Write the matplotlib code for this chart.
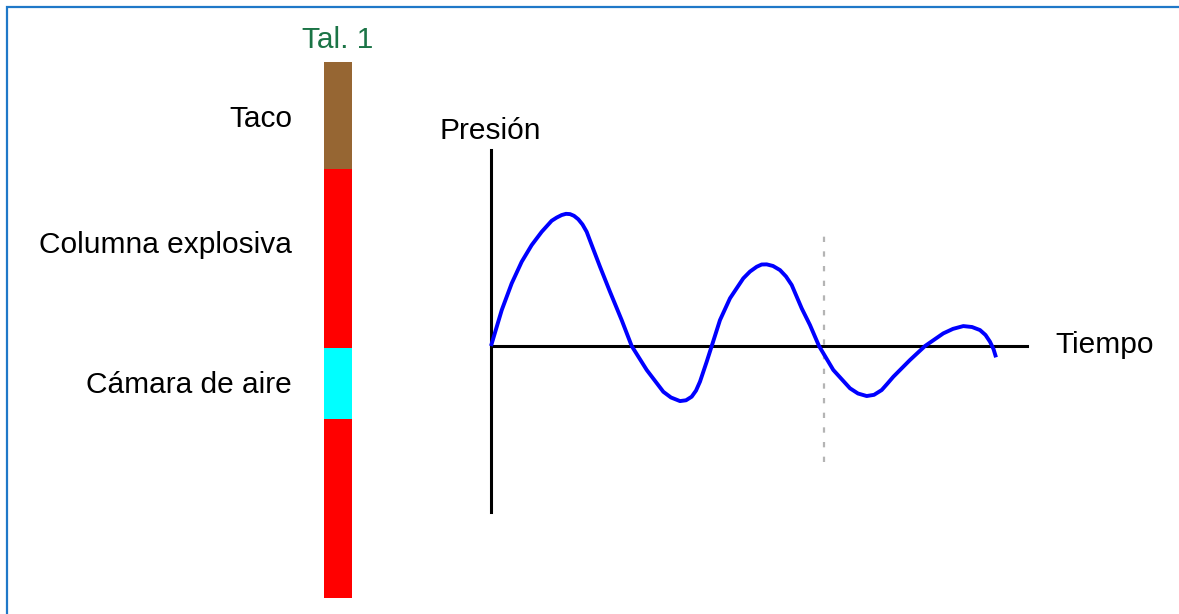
import matplotlib
matplotlib.use("Agg")
import matplotlib.pyplot as plt
from matplotlib.patches import Rectangle

plt.rcParams["font.family"] = ["Liberation Sans", "DejaVu Sans"]

# column segments, top to bottom (relative lengths)
segment_names = ["Taco", "Columna explosiva", "Cámara de aire", "Columna explosiva"]
segment_lengths = [1.5, 2.5, 1.0, 2.5]
segment_colors = ["#966633", "#ff0000", "#00ffff", "#ff0000"]
column_title = "Tal. 1"

# pressure trace (time, pressure)
time_vals = [0.0, 0.20, 0.386, 0.573, 0.759, 0.946, 1.132, 1.226, 1.319, 1.399,
             1.474, 1.549, 1.629, 1.707, 1.785, 1.879, 2.034, 2.220, 2.438, 2.625,
             2.905, 3.215, 3.358, 3.526, 3.638, 3.744, 3.825, 3.899, 4.024, 4.118,
             4.272, 4.459, 4.707, 4.832, 4.957, 5.050, 5.144, 5.261, 5.392, 5.504,
             5.610, 5.797, 5.951, 6.12, 6.386, 6.698, 6.847, 7.009, 7.146, 7.289,
             7.397, 7.506, 7.817, 8.097, 8.438, 8.619, 8.812, 8.974, 9.123, 9.226,
             9.310, 9.375, 9.422]
pressure_vals = [0.0, 0.27, 0.471, 0.634, 0.759, 0.859, 0.942, 0.966, 0.985, 0.994,
                 0.992, 0.979, 0.953, 0.914, 0.859, 0.759, 0.596, 0.408, 0.195, 0.0,
                 -0.180, -0.344, -0.387, -0.414, -0.408, -0.381, -0.335, -0.268, -0.118, 0.0,
                 0.195, 0.359, 0.509, 0.560, 0.596, 0.613, 0.614, 0.602, 0.571, 0.523,
                 0.459, 0.283, 0.158, 0.0, -0.180, -0.318, -0.357, -0.376, -0.367, -0.331,
                 -0.282, -0.231, -0.105, 0.0, 0.095, 0.129, 0.150, 0.143, 0.120, 0.083,
                 0.032, -0.023, -0.085]
marker_time = 6.21
marker_range = (-0.872, 0.857)
time_max = 10.0
pressure_range = (-1.248, 1.474)

W, H = 1179, 614
fig = plt.figure(figsize=(W / 100, H / 100), dpi=100)
fig.patch.set_facecolor("white")


def fx(px):
    return px / W


def fy(py):
    return 1 - py / H


# frame (only left and top edges are visible in the crop)
fig.add_artist(Rectangle((fx(6.5), -0.1), 1.2, fy(7) + 0.1, transform=fig.transFigure,
                         fill=False, edgecolor="#1f78c8", lw=1.6))

# charge column
ax_col = fig.add_axes([fx(324), fy(598), fx(28), 536 / H])
bottom = 0.0
for length, color in zip(segment_lengths, segment_colors):
    ax_col.bar(0, length, bottom=bottom, width=1.0, color=color, linewidth=0)
    bottom += length
ax_col.set_xlim(-0.5, 0.5)
ax_col.set_ylim(sum(segment_lengths), 0)
ax_col.axis("off")

fs = 21.5
fig.text(fx(338), fy(40), column_title, color="#1b7446", fontsize=fs, ha="center", va="center")
fig.text(fx(292), fy(119), segment_names[0], fontsize=fs, ha="right", va="center")
fig.text(fx(292), fy(245), segment_names[1], fontsize=fs, ha="right", va="center")
fig.text(fx(292), fy(385), segment_names[2], fontsize=fs, ha="right", va="center")

# pressure-time sketch
ax = fig.add_axes([fx(491), fy(512), 536 / W, 362 / H])
ax.set_xlim(0, time_max)
ax.set_ylim(*pressure_range)
ax.axis("off")
ax.axhline(0, color="black", lw=2.2, clip_on=False, zorder=2)
ax.axvline(0, color="black", lw=2.2, clip_on=False, zorder=2)
ax.vlines(marker_time, *marker_range, colors="#b4b4b4", lw=1.6,
          linestyles=(0, (2.4, 4.2)), zorder=1)
ax.plot(time_vals, pressure_vals, color="#0000ff", lw=2.8, solid_capstyle="butt",
        solid_joinstyle="round", clip_on=False, zorder=3)

fig.text(fx(440), fy(131), "Presión", fontsize=fs, ha="left", va="center")
fig.text(fx(1055), fy(345), "Tiempo", fontsize=fs, ha="left", va="center")

fig.savefig("out.png", dpi=100)
